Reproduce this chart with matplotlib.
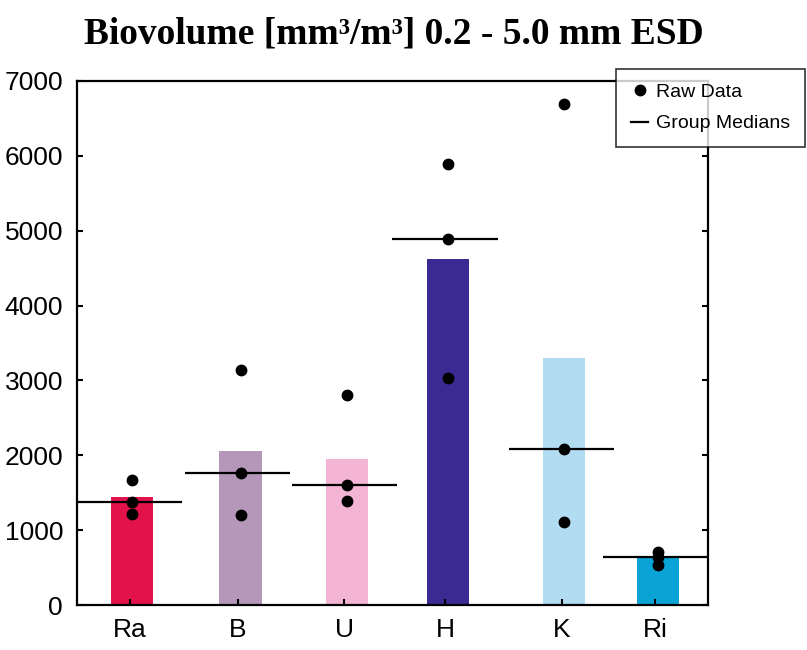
import numpy as np
import matplotlib.pyplot as plt
from matplotlib.lines import Line2D

# Dados
groups = ['Ra', 'B', 'U', 'H', 'K', 'Ri']
positions = [1.0, 2.03, 3.04, 4.0, 5.11, 6.0]
bar_heights = [1440, 2055, 1945, 4620, 3300, 640]
raw_data = [
    [1676, 1378, 1213],
    [3142, 1769, 1204],
    [2809, 1609, 1396],
    [5889, 4884, 3036],
    [6697, 2089, 1107],
    [711, 640, 533],
]
colors = ['#E2124B', '#B497B9', '#F3B4D5', '#3C2A93', '#B2DCF1', '#0AA3D5']

plt.rcParams['font.family'] = ['Liberation Sans', 'DejaVu Sans']

fig = plt.figure(figsize=(8.07, 6.5), dpi=100)
ax = fig.add_axes([0.0954, 0.0692, 0.7819, 0.8062])

off = 0.025
ax.bar(np.array(positions) + off, bar_heights, width=0.4, color=colors, zorder=1)

for x, vals in zip(positions, raw_data):
    ax.plot([x + off] * len(vals), vals, 'o', color='black', markersize=7.5, zorder=3)
    med = np.median(vals)
    ax.plot([x - 0.5, x + 0.5], [med, med], color='black', linewidth=1.6, zorder=2,
            solid_capstyle='butt')

ax.set_xlim(0.5, 6.5)
ax.set_ylim(0, 7000)
ax.set_xticks(positions)
ax.set_xticklabels(groups)
ax.set_yticks(np.arange(0, 7001, 1000))

ax.tick_params(direction='in', length=4, width=1.5, labelsize=19, right=True, top=False)
ax.tick_params(axis='y', pad=10)
ax.tick_params(axis='x', pad=9)
for s in ax.spines.values():
    s.set_linewidth(1.6)

fig.text(0.488, 0.947, 'Biovolume [mm³/m³] 0.2 - 5.0 mm ESD', ha='center', va='center',
         fontsize=27, fontweight='bold', family=['Liberation Serif', 'DejaVu Serif'])

handles = [
    Line2D([], [], marker='o', linestyle='none', color='black', markersize=7.5),
    Line2D([], [], color='black', linewidth=1.6),
]
leg = fig.legend(handles, ['Raw Data', 'Group Medians'], loc='upper right',
                 bbox_to_anchor=(0.9975, 0.894), fontsize=14, frameon=True, fancybox=False,
                 handlelength=0.9, handletextpad=0.4, borderpad=0.75, labelspacing=0.7,
                 borderaxespad=0)
leg.get_frame().set_edgecolor('black')
leg.get_frame().set_linewidth(1.2)

fig.savefig('out.png', dpi=100)
